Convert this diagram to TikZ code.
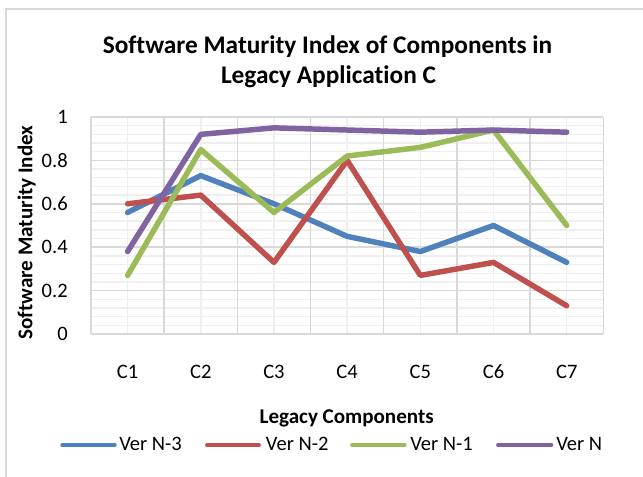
\documentclass[tikz,border=0pt]{standalone}
\usepackage{fontspec}
\setmainfont{Carlito}[Ligatures=NoCommon]
\definecolor{serA}{HTML}{4F81BD}
\definecolor{serB}{HTML}{C0504D}
\definecolor{serC}{HTML}{9BBB59}
\definecolor{serD}{HTML}{8064A2}
\definecolor{majgrid}{HTML}{D9D9D9}
\definecolor{mingrid}{HTML}{EFEFEF}
\definecolor{framegray}{HTML}{D9D9D9}
\begin{document}
\begin{tikzpicture}[x=0.75pt,y=-0.75pt,
  declare function={cx(\i)=91+73.19*(\i-0.5); vy(\v)=334-217*\v;},
  frameline/.style={draw=framegray,line width=1.8pt},
  majorline/.style={draw=majgrid,line width=1.1pt},
  minorline/.style={draw=mingrid,line width=1.1pt},
  series/.style={line width=4.1pt,line cap=round,line join=round},
  legline/.style={line width=2.4pt,line cap=round},
  titletext/.style={inner sep=0pt,anchor=base,font=\fontsize{19}{22}\selectfont\bfseries},
  ticktext/.style={inner sep=0pt,font=\fontsize{15.4}{18}\selectfont},
  axtitle/.style={inner sep=0pt,anchor=base,font=\fontsize{15.8}{18}\selectfont\bfseries},
  legtext/.style={inner sep=0pt,anchor=base west,font=\fontsize{15.4}{18}\selectfont}]
\useasboundingbox (0,0) rectangle (643,477);
\fill[white] (0,0) rectangle (643,477);

% chart frame
\draw[frameline] (5.8,477) -- (5.8,9) -- (643,9);

% title
\node[titletext] (title1) at (327.5,53.3) {Software Maturity Index of Components in};
\node[titletext] (title2) at (328.5,83.3) {Legacy Application C};

% minor gridlines
\foreach \k in {1,...,24}{
  \draw[minorline] (91,{334-217*\k/25}) -- (603.3,{334-217*\k/25});
}
\foreach \i in {1,...,7}{
  \draw[minorline] ({cx(\i)},117) -- ({cx(\i)},334);
}
% major gridlines and plot border
\foreach \k in {0,...,5}{
  \draw[majorline] (91,{334-43.4*\k}) -- (603.3,{334-43.4*\k});
}
\foreach \i in {0,...,7}{
  \draw[majorline] ({91+73.19*\i},117) -- ({91+73.19*\i},334);
}

% value axis labels
\foreach \v/\lab in {0/0,0.2/0.2,0.4/0.4,0.6/0.6,0.8/0.8,1/1}{
  \node[ticktext,anchor=east] (ytick\lab) at (68,{vy(\v)}) {\lab};
}
% category axis labels
\foreach \i in {1,...,7}{
  \node[ticktext,anchor=base] (cat\i) at ({cx(\i)},378.3) {C\i};
}

% axis titles
\node[axtitle,rotate=90] (ytitle) at (32.5,232.5) {Software Maturity Index};
\node[axtitle] (xtitle) at (346.7,424) {Legacy Components};

% data series
\draw[series,serA] ({cx(1)},{vy(0.56)}) -- ({cx(2)},{vy(0.73)}) -- ({cx(3)},{vy(0.60)}) -- ({cx(4)},{vy(0.45)}) -- ({cx(5)},{vy(0.38)}) -- ({cx(6)},{vy(0.50)}) -- ({cx(7)},{vy(0.33)});
\draw[series,serB] ({cx(1)},{vy(0.60)}) -- ({cx(2)},{vy(0.64)}) -- ({cx(3)},{vy(0.33)}) -- ({cx(4)},{vy(0.80)}) -- ({cx(5)},{vy(0.27)}) -- ({cx(6)},{vy(0.33)}) -- ({cx(7)},{vy(0.13)});
\draw[series,serC] ({cx(1)},{vy(0.27)}) -- ({cx(2)},{vy(0.85)}) -- ({cx(3)},{vy(0.56)}) -- ({cx(4)},{vy(0.82)}) -- ({cx(5)},{vy(0.86)}) -- ({cx(6)},{vy(0.94)}) -- ({cx(7)},{vy(0.50)});
\draw[series,serD] ({cx(1)},{vy(0.38)}) -- ({cx(2)},{vy(0.92)}) -- ({cx(3)},{vy(0.95)}) -- ({cx(4)},{vy(0.94)}) -- ({cx(5)},{vy(0.93)}) -- ({cx(6)},{vy(0.94)}) -- ({cx(7)},{vy(0.93)});

% legend
\coordinate (legA0) at (62,445);   \coordinate (legA1) at (115,445);
\coordinate (legB0) at (206.7,445); \coordinate (legB1) at (259.3,445);
\coordinate (legC0) at (351.7,445); \coordinate (legC1) at (405,445);
\coordinate (legD0) at (497.7,445); \coordinate (legD1) at (551.7,445);
\draw[legline,serA] (legA0) -- (legA1);
\draw[legline,serB] (legB0) -- (legB1);
\draw[legline,serC] (legC0) -- (legC1);
\draw[legline,serD] (legD0) -- (legD1);
\node[legtext] (legtextA) at (119,450.7) {Ver N-3};
\node[legtext] (legtextB) at (265.7,450.7) {Ver N-2};
\node[legtext] (legtextC) at (410,450.7) {Ver N-1};
\node[legtext] (legtextD) at (556,450.7) {Ver N};
\end{tikzpicture}
\end{document}
